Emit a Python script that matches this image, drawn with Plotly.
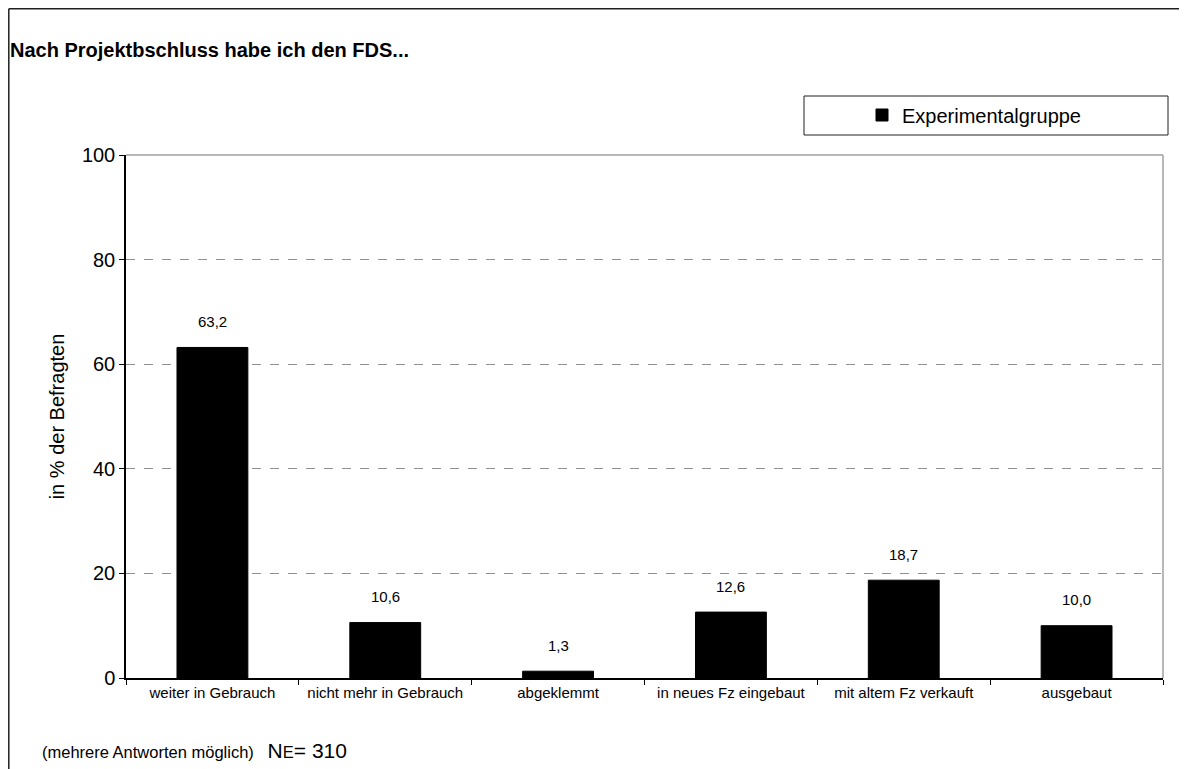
import plotly.graph_objects as go

categories = [
    "weiter in Gebrauch",
    "nicht mehr in Gebrauch",
    "abgeklemmt",
    "in neues Fz eingebaut",
    "mit altem Fz verkauft",
    "ausgebaut",
]
values = [63.2, 10.6, 1.3, 12.6, 18.7, 10.0]
value_labels = ["63,2", "10,6", "1,3", "12,6", "18,7", "10,0"]
y_ticks = [0, 20, 40, 60, 80, 100]

# the page body has an 8px margin, so the figure starts at screen (8, 8)
OFF = 8
W, H = 1187 - OFF, 769 - OFF
L, R, T, B = 126, 1163, 155, 678  # plot area in screen pixels
FONT = "Liberation Sans, Arial, sans-serif"


def px_x(x):
    return (x - L) / (R - L)


def px_y(y):
    return (B - y) / (B - T)


fig = go.Figure()
fig.add_trace(
    go.Bar(
        x=categories,
        y=values,
        name="Experimentalgruppe",
        marker={"color": "black", "line": {"color": "black", "width": 1}},
    )
)

for cat, val, lab in zip(categories, values, value_labels):
    fig.add_annotation(x=cat, y=val, text=lab, showarrow=False, yshift=26, yanchor="middle",
                       font={"size": 15, "color": "black", "family": FONT})

# outer chart frame (left and top edges visible)
fig.add_shape(type="line", xref="paper", yref="paper", x0=px_x(8.8), x1=px_x(1200), y0=px_y(8.8), y1=px_y(8.8),
              line={"color": "#202020", "width": 1.5})
fig.add_shape(type="line", xref="paper", yref="paper", x0=px_x(8.8), x1=px_x(8.8), y0=px_y(8.8), y1=px_y(790),
              line={"color": "#202020", "width": 1.5})
# grey plot border top / right
fig.add_shape(type="line", xref="paper", yref="paper", x0=0, x1=1, y0=1, y1=1, line={"color": "#a0a0a0", "width": 1.5})
fig.add_shape(type="line", xref="paper", yref="paper", x0=1, x1=1, y0=0, y1=1, line={"color": "#a0a0a0", "width": 1.5})
# legend box
fig.add_shape(type="rect", xref="paper", yref="paper", x0=px_x(804), x1=px_x(1168), y0=px_y(135), y1=px_y(96),
              line={"color": "#202020", "width": 1}, fillcolor="white", layer="below")

fig.add_annotation(xref="paper", yref="paper", x=px_x(40), y=px_y(750), xanchor="left", yanchor="middle",
                   showarrow=False,
                   text="(mehrere Antworten möglich)&nbsp;&nbsp;&nbsp;<span style='font-size:21px'>N</span>E"
                        "<span style='font-size:21px'>= 310</span>",
                   font={"size": 16.5, "color": "black", "family": FONT})

fig.update_layout(
    width=W,
    height=H,
    margin={"l": L - OFF, "r": W - (R - OFF), "t": T - OFF, "b": H - (B - OFF), "pad": 0},
    paper_bgcolor="white",
    plot_bgcolor="white",
    font={"family": FONT, "color": "black"},
    title={"text": "<b>Nach Projektbschluss habe ich den FDS...</b>", "xref": "container", "yref": "container",
           "x": (10 - OFF) / W, "y": 1 - (50 - OFF) / H, "xanchor": "left", "yanchor": "middle",
           "font": {"size": 20, "color": "black"}},
    bargap=0.59,
    showlegend=True,
    legend={"x": px_x(862), "y": px_y(115), "xanchor": "left", "yanchor": "middle", "bgcolor": "rgba(0,0,0,0)",
            "font": {"size": 20, "color": "black"}},
)
fig.update_xaxes(
    showline=True, linecolor="black", linewidth=1.5, ticks="outside", ticklen=5, tickcolor="black",
    tickson="boundaries", tickfont={"size": 15}, showgrid=False,
)
fig.update_yaxes(
    range=[0, 100], tickvals=y_ticks, showline=True, linecolor="black", linewidth=1.5, ticks="outside",
    ticklen=5, tickcolor="black", tickfont={"size": 20}, showgrid=True, gridcolor="#909090", griddash="dash",
    gridwidth=1, zeroline=False, title={"text": "in % der Befragten", "font": {"size": 20}, "standoff": 12},
)

fig.write_html("out.html")
